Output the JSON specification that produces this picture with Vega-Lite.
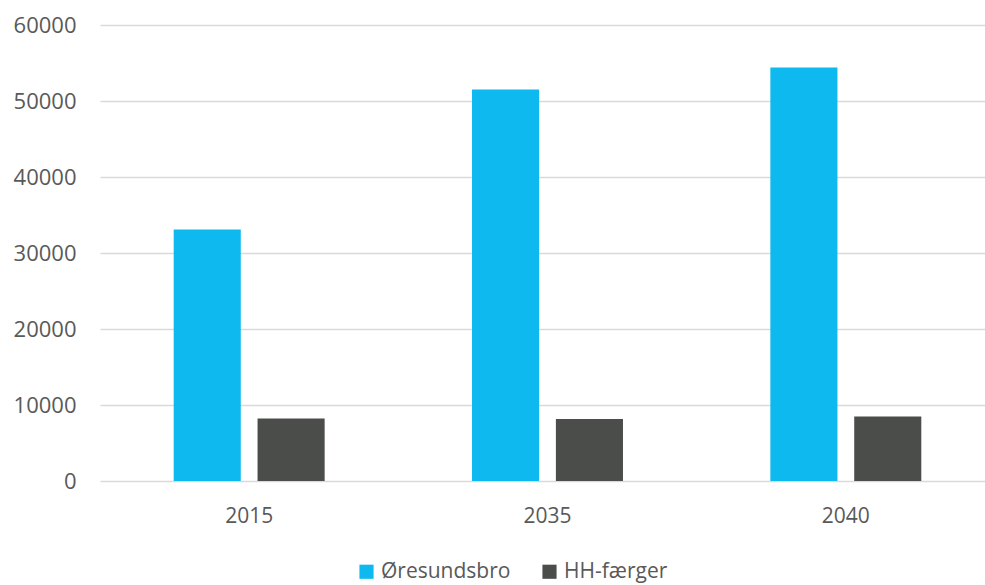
{
  "$schema": "https://vega.github.io/schema/vega-lite/v6.json",
  "autosize": {"type": "none"},
  "width": 895,
  "height": 456,
  "padding": {"left": 100, "top": 25, "right": 0, "bottom": 104},
  "background": "white",
  "config": {
    "view": {"stroke": null},
    "font": "Open Sans",
    "axis": {"labelFont": "Open Sans", "labelColor": "#595959"}
  },
  "data": {
    "values": [
      {"year": "2015", "series": "Øresundsbro", "value": 33100},
      {"year": "2015", "series": "HH-færger", "value": 8240},
      {"year": "2035", "series": "Øresundsbro", "value": 51500},
      {"year": "2035", "series": "HH-færger", "value": 8150},
      {"year": "2040", "series": "Øresundsbro", "value": 54400},
      {"year": "2040", "series": "HH-færger", "value": 8500}
    ]
  },
  "mark": {"type": "bar"},
  "encoding": {
    "x": {
      "field": "year", "type": "nominal", "title": null,
      "scale": {"paddingInner": 0.494, "paddingOuter": 0.247},
      "axis": {"labelAngle": 0, "domain": false, "ticks": false, "labelFontSize": 21, "labelPadding": 24, "grid": false}
    },
    "xOffset": {
      "field": "series", "type": "nominal",
      "sort": ["Øresundsbro", "HH-færger"],
      "scale": {"paddingInner": 0.2, "paddingOuter": 0}
    },
    "y": {
      "field": "value", "type": "quantitative", "title": null,
      "scale": {"domain": [0, 60000], "nice": false},
      "axis": {"values": [0, 10000, 20000, 30000, 40000, 50000, 60000], "format": "d", "domain": false, "ticks": false, "labelFontSize": 22, "labelPadding": 24, "gridColor": "#D9D9D9", "gridWidth": 1.5}
    },
    "color": {
      "field": "series", "type": "nominal",
      "sort": ["Øresundsbro", "HH-færger"],
      "scale": {"domain": ["Øresundsbro", "HH-færger"], "range": ["#0DB9EE", "#4B4D4A"]},
      "legend": {
        "orient": "none", "legendX": 256, "legendY": 536, "direction": "horizontal", "title": null,
        "symbolType": "square", "symbolSize": 200, "symbolStrokeWidth": 0,
        "labelFontSize": 21, "labelColor": "#595959", "labelFont": "Open Sans",
        "columnPadding": 28
      }
    }
  }
}
